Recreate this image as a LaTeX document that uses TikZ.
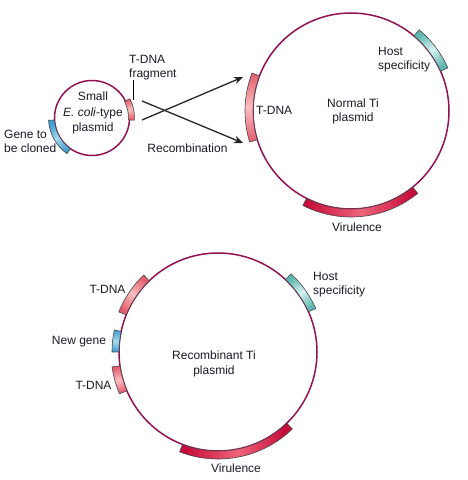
\documentclass[tikz,border=0pt]{standalone}
\usepackage{fontspec}
\setmainfont{Liberation Sans}
\usetikzlibrary{arrows.meta}
\definecolor{circ}{RGB}{145,18,85}
\definecolor{outl}{RGB}{70,70,70}
\definecolor{txt}{RGB}{25,25,40}
\definecolor{tdnaD}{RGB}{228,95,110}
\definecolor{tdnaL}{RGB}{250,190,192}
\definecolor{virD}{RGB}{198,12,58}
\definecolor{virL}{RGB}{240,100,122}
\definecolor{hostD}{RGB}{95,182,176}
\definecolor{hostL}{RGB}{215,242,240}
\definecolor{geneD}{RGB}{66,158,208}
\definecolor{geneL}{RGB}{165,218,238}
\newcommand\myband[6]{%
  \begin{scope}[shift={#1}]
    \draw[#6] (#2:#4) arc[start angle=#2, end angle=#3, radius=#4]
      -- (#3:#5) arc[start angle=#3, end angle=#2, radius=#5] -- cycle;
  \end{scope}}
\tikzset{
  plasmid/.style={draw=circ, line width=1.5pt},
  bandline/.style={draw=outl, line width=0.6pt},
  tdna/.style={bandline, top color=tdnaD, bottom color=tdnaD, middle color=tdnaL, shading angle=#1},
  vir/.style={bandline, top color=virD, bottom color=virD, middle color=virL, shading angle=#1},
  host/.style={bandline, top color=hostD, bottom color=hostD, middle color=hostL, shading angle=#1},
  gene/.style={bandline, top color=geneD, bottom color=geneD, middle color=geneL, shading angle=#1},
  lbl/.style={text=txt, inner sep=0pt, font=\fontsize{12}{14.5}\selectfont},
  arr/.style={draw=black!85, line width=1.3pt, -{Stealth[length=9pt,width=7.5pt]}},
}
\begin{document}
\begin{tikzpicture}[x=1pt,y=1pt]
\useasboundingbox (0,0) rectangle (467,480);
% circles
\draw[plasmid] (92,362) circle[radius=37.5];
\draw[plasmid] (351,369) circle[radius=98];
\draw[plasmid] (218,128) circle[radius=99];
% small plasmid bands
\myband{(92,362)}{-3}{27}{36.5}{42.5}{tdna=12}
\myband{(92,362)}{183}{235}{37.5}{43.5}{gene=209}
% normal Ti bands
\myband{(351,369)}{159}{197}{98}{106}{tdna=178}
\myband{(351,369)}{24}{50}{98}{106}{host=37}
\myband{(351,369)}{243}{309}{98}{106}{vir=276}
% recombinant Ti bands
\myband{(218,128)}{134}{158}{99}{107}{tdna=146}
\myband{(218,128)}{168}{180}{99}{106}{gene=174}
\myband{(218,128)}{188}{203}{99}{107}{tdna=195}
\myband{(218,128)}{24}{47}{99}{107}{host=35}
\myband{(218,128)}{249}{314}{99}{107}{vir=281}
% labels top
\node[lbl, anchor=west, align=left] (tfrag) at (129,412.5) {T-DNA\\fragment};
\coordinate (tfragtop) at (133,400);
\coordinate (tfragband) at (133,380);
\draw[black, line width=0.9pt] (tfragtop) -- (tfragband);
\node[lbl, align=center, font=\fontsize{12}{15.5}\selectfont] (small) at (93,367) {Small\\\textit{E. coli}-type\\plasmid};
\node[lbl, anchor=west, align=left] (gene) at (4,338.5) {Gene to\\be cloned};
\node[lbl] (recomb) at (187.5,332) {Recombination};
\node[lbl, anchor=west] (tdnaA) at (256,370) {T-DNA};
\node[lbl, align=center] (normal) at (353,368.5) {Normal Ti\\plasmid};
\node[lbl, anchor=west, align=left] (hostA) at (378,420.5) {Host\\specificity};
\node[lbl] (virA) at (357,253) {Virulence};
% arrows
\coordinate (a1s) at (142,379);
\coordinate (a1e) at (243,337);
\coordinate (a2s) at (142,360);
\coordinate (a2e) at (243,403);
\draw[arr] (a1s) -- (a1e);
\draw[arr] (a2s) -- (a2e);
% labels bottom
\node[lbl] (tdnaB) at (107.5,191) {T-DNA};
\node[lbl] (newgene) at (79,138) {New gene};
\node[lbl] (tdnaC) at (93.5,95) {T-DNA};
\node[lbl, anchor=west, align=left] (hostB) at (313,195.5) {Host\\specificity};
\node[lbl, align=center] (recTi) at (214,116) {Recombinant Ti\\plasmid};
\node[lbl] (virB) at (236,12) {Virulence};
\end{tikzpicture}
\end{document}
